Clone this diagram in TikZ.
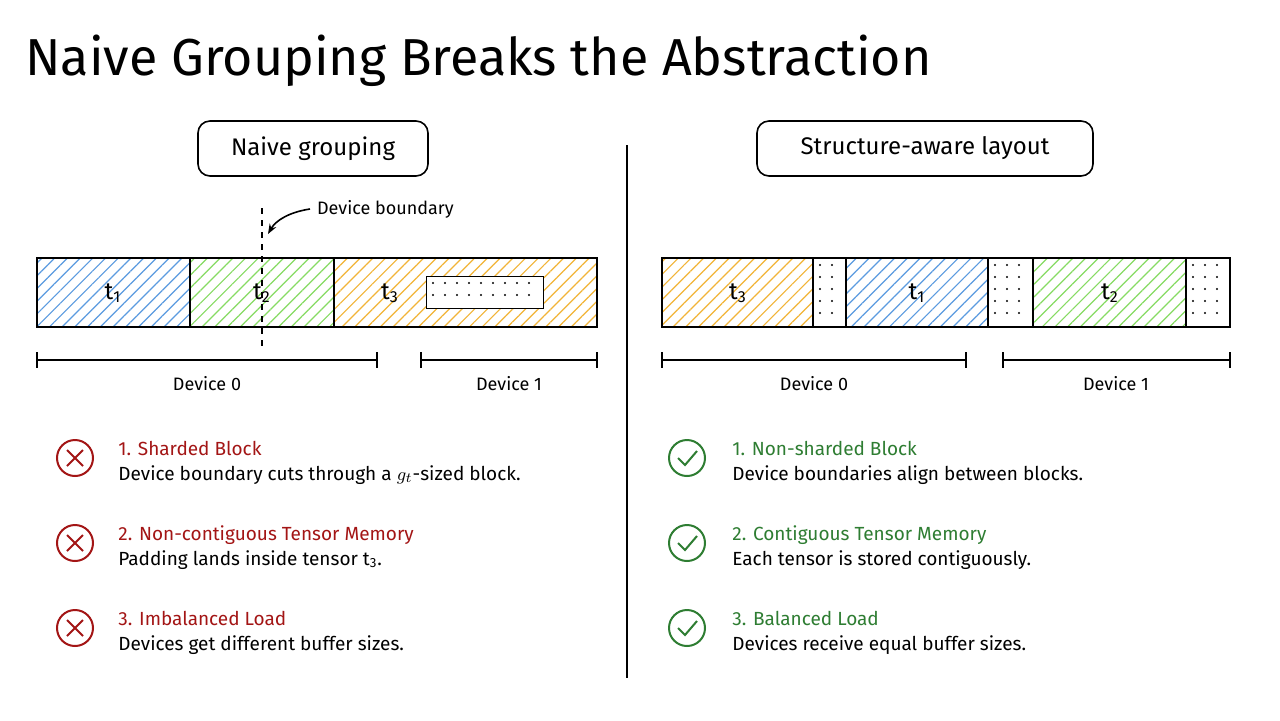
\documentclass[tikz,border=0pt]{standalone}
\usepackage{fontspec}
\setmainfont{Fira Sans}
\usetikzlibrary{patterns.meta,arrows.meta}
\definecolor{tblue}{HTML}{5B9BE0}
\definecolor{tgreen}{HTML}{86DB63}
\definecolor{tyellow}{HTML}{F2B437}
\definecolor{badred}{HTML}{A31515}
\definecolor{goodgreen}{HTML}{2E7D32}
\tikzset{
  blk/.style={draw=black, line width=0.8pt},
  hatch/.style={pattern={Lines[angle=45, distance=4.5pt, line width=0.6pt]}, pattern color=#1},
  brk/.style={line width=0.8pt},
  lbl/.style={font=\fontsize{9}{11}\selectfont},
  tlbl/.style={font=\fontsize{12}{14}\selectfont},
  head/.style={font=\fontsize{9.5}{11}\selectfont, anchor=base west, inner sep=0pt},
  body/.style={font=\fontsize{9.5}{11}\selectfont, anchor=base west, inner sep=0pt},
  tbox/.style={draw, rounded corners=6pt, line width=0.8pt, minimum height=27.5pt, font=\fontsize{12}{14}\selectfont}
}
\newcommand\padfill[4]{% x0 y0 x1 y1
  \fill[white] (#1,#2) rectangle (#3,#4);
  \pgfmathsetmacro\xa{#1+7}\pgfmathsetmacro\xb{#1+19}\pgfmathsetmacro\xe{#3-4}
  \pgfmathsetmacro\ya{#2+7}\pgfmathsetmacro\yb{#2+19}\pgfmathsetmacro\ye{#4-4}
  \foreach \xx in {\xa,\xb,...,\xe}
    \foreach \yy in {\ya,\yb,...,\ye}
      \fill (\xx,\yy) circle (1.2);}
\newcommand\bracket[3]{% x0 x1 y
  \draw[brk] (#1,#3) -- (#2,#3);
  \draw[brk] (#1,#3-8) -- (#1,#3+8);
  \draw[brk] (#2,#3-8) -- (#2,#3+8);}
\newcommand\tn[1]{t\textsubscript{#1}}
\begin{document}
\begin{tikzpicture}[x=0.5pt,y=-0.5pt]
\useasboundingbox (0,0) rectangle (1280,720);
\fill[white] (0,0) rectangle (1280,720);

\node[anchor=base west, inner sep=0pt, font=\fontsize{26}{30}\selectfont] (title) at (25,75) {Naive Grouping Breaks the Abstraction};
\draw[line width=0.9pt] (627,145) -- (627,678);

% left panel
\node[tbox, minimum width=115pt] (lbox) at (313,148.5) {Naive grouping};
\fill[hatch=tblue] (37,258) rectangle (190,327);
\fill[hatch=tgreen] (190,258) rectangle (334,327);
\fill[hatch=tyellow] (334,258) rectangle (597,327);
\padfill{426}{276}{543}{308}
\draw[line width=0.5pt] (426,276) rectangle (543,308);
\draw[blk] (37,258) rectangle (597,327);
\draw[blk] (190,258) -- (190,327);
\draw[blk] (334,258) -- (334,327);
\node[tlbl] (lt1) at (113,293) {\tn1};
\node[tlbl] (lt2) at (262,293) {\tn2};
\node[tlbl] (lt3) at (390,293) {\tn3};
\draw[dashed, line width=0.8pt] (262,208) -- (262,348);
\node[lbl, anchor=west] (bnd) at (310,209) {Device boundary};
\draw[-{Stealth[length=5pt]}, line width=0.8pt] (bnd.west) .. controls (290,212) and (276,220) .. (268,234);
\bracket{37}{377}{360}
\bracket{421}{597}{360}
\node[lbl] (ld0) at (207,384) {Device 0};
\node[lbl] (ld1) at (509,384) {Device 1};

\foreach \y/\h/\b in {
  449/{1. Sharded Block}/{Device boundary cuts through a $g_t$-sized block.},
  534/{2. Non-contiguous Tensor Memory}/{Padding lands inside tensor \tn3.},
  619/{3. Imbalanced Load}/{Devices get different buffer sizes.}}{
  \draw[badred, line width=1pt] (75,\y+9) circle (18);
  \draw[badred, line width=1pt] (67,\y+1) -- (83,\y+17) (83,\y+1) -- (67,\y+17);
  \node[head, text=badred] at (118,\y+6) {\h};
  \node[body] at (118,\y+31) {\b};
}

% right panel
\node[tbox, minimum width=168pt] (rbox) at (925,148.5) {Structure-aware layout};
\fill[hatch=tyellow] (662,258) rectangle (813,327);
\fill[hatch=tblue] (846,258) rectangle (988,327);
\fill[hatch=tgreen] (1033,258) rectangle (1186,327);
\padfill{813}{258}{846}{327}
\padfill{988}{258}{1033}{327}
\padfill{1186}{258}{1230}{327}
\draw[blk] (662,258) rectangle (1230,327);
\foreach \x in {813,846,988,1033,1186} \draw[blk] (\x,258) -- (\x,327);
\node[tlbl] (rt3) at (738,293) {\tn3};
\node[tlbl] (rt1) at (917,293) {\tn1};
\node[tlbl] (rt2) at (1110,293) {\tn2};
\bracket{662}{966}{360}
\bracket{1003}{1230}{360}
\node[lbl] (rd0) at (814,384) {Device 0};
\node[lbl] (rd1) at (1116,384) {Device 1};

\foreach \y/\h/\b in {
  449/{1. Non-sharded Block}/{Device boundaries align between blocks.},
  534/{2. Contiguous Tensor Memory}/{Each tensor is stored contiguously.},
  619/{3. Balanced Load}/{Devices receive equal buffer sizes.}}{
  \draw[goodgreen, line width=1pt] (687,\y+9) circle (18);
  \draw[goodgreen, line width=1pt] (678,\y+9) -- (685,\y+16) -- (697,\y+2);
  \node[head, text=goodgreen] at (732,\y+6) {\h};
  \node[body] at (732,\y+31) {\b};
}
\end{tikzpicture}
\end{document}
